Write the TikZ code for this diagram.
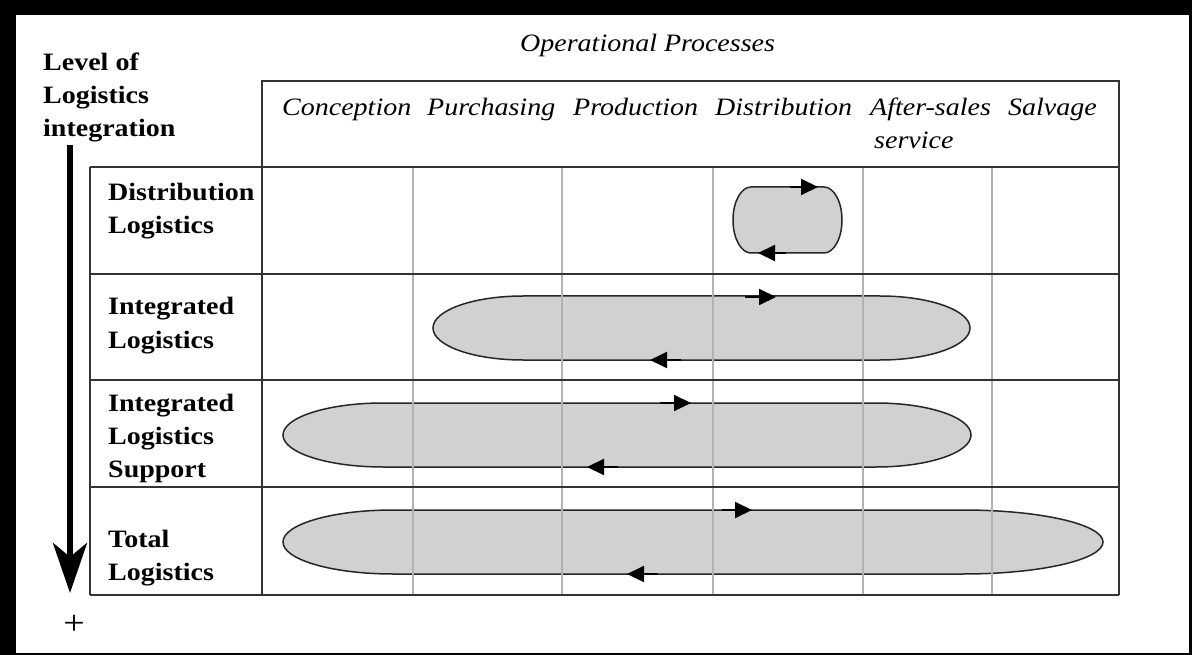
\documentclass[tikz,border=0pt]{standalone}
\usepackage{fontspec}
\setmainfont{Liberation Serif}[FakeStretch=1.12]
\usetikzlibrary{arrows.meta}

% closed loop with elliptical ends: left x, right x, centre y, half height, left cap, right cap
\newcommand\loopband[6]{%
  \path[loopband] (#1+#5,#3-#4) -- (#2-#6,#3-#4)
    arc[start angle=-90,end angle=90,x radius=#6,y radius=#4]
    -- (#1+#5,#3+#4)
    arc[start angle=90,end angle=270,x radius=#5,y radius=#4] -- cycle;}

\begin{document}
\begin{tikzpicture}[x=1pt,y=-1pt,
  darkrule/.style={draw=black!80, line width=1.6pt},
  colrule/.style={draw=black!30, line width=1.3pt},
  loopband/.style={fill=black!18, draw=black!85, line width=1.5pt},
  flow/.style={line width=2pt, -{Triangle[length=17pt,width=16pt]}},
  rowlabel/.style={anchor=base west, align=left, inner sep=0pt,
    font=\bfseries\fontsize{25}{33}\selectfont},
  colhead/.style={anchor=base west, inner sep=0pt,
    font=\itshape\fontsize{25}{33}\selectfont},
  axis/.style={line width=6pt, -{Stealth[length=50pt,width=34pt,inset=14pt]}},
]
% frame
\fill[black] (0,0) rectangle (1192,655);
\fill[white] (16,15) rectangle (1189,653);
\useasboundingbox (0,0) rectangle (1192,655);

% scope bands with their flow directions
\loopband{733}{842}{220}{33}{18}{18}
\loopband{433}{970}{328}{32}{90}{90}
\loopband{283}{971}{435}{32}{100}{95}
\loopband{283}{1103}{542}{32}{110}{140}

% column rules
\foreach \cx in {413,562,713,863,992}
  \draw[colrule] (\cx,167) -- (\cx,595);

% table frame and row rules
\draw[darkrule] (262,167) -- (262,81) -- (1119,81) -- (1119,595);
\draw[darkrule] (262,167) -- (262,595);
\draw[darkrule] (90,167) -- (90,595);
\foreach \ry in {167,274,380,487,595}
  \draw[darkrule] (90,\ry) -- (1119,\ry);

% flow arrows
\coordinate (d1) at (790,187); \coordinate (d2) at (818,187);
\coordinate (d3) at (786,253); \coordinate (d4) at (758,253);
\coordinate (i1) at (745,297); \coordinate (i2) at (776,297);
\coordinate (i3) at (681,360); \coordinate (i4) at (650,360);
\coordinate (s1) at (660,403); \coordinate (s2) at (691,403);
\coordinate (s3) at (618,467); \coordinate (s4) at (587,467);
\coordinate (t1) at (722,510); \coordinate (t2) at (752,510);
\coordinate (t3) at (658,574); \coordinate (t4) at (627,574);
\draw[flow] (d1) -- (d2); \draw[flow] (d3) -- (d4);
\draw[flow] (i1) -- (i2); \draw[flow] (i3) -- (i4);
\draw[flow] (s1) -- (s2); \draw[flow] (s3) -- (s4);
\draw[flow] (t1) -- (t2); \draw[flow] (t3) -- (t4);

% headings
\node[colhead] (ops) at (520,52) {Operational Processes};
\node[colhead] (c1) at (282,116) {Conception};
\node[colhead] (c2) at (427,116) {Purchasing};
\node[colhead] (c3) at (573,116) {Production};
\node[colhead] (c4) at (715,116) {Distribution};
\node[colhead] (c5) at (870,116) {After-sales};
\node[colhead] (c5b) at (874,149) {service};
\node[colhead] (c6) at (1008,116) {Salvage};

% row labels (placed by the baseline of their last line)
\node[rowlabel] (lvl) at (43,137) {Level of\\Logistics\\integration};
\node[rowlabel] (r1) at (108,234) {Distribution\\Logistics};
\node[rowlabel] (r2) at (108,348) {Integrated\\Logistics};
\node[rowlabel] (r3) at (108,477) {Integrated\\Logistics\\Support};
\node[rowlabel] (r4) at (108,580) {Total\\Logistics};

% integration axis
\coordinate (axtop) at (70,145);
\coordinate (axend) at (70,593);
\draw[axis] (axtop) -- (axend);
\node[inner sep=0pt, font=\fontsize{34}{34}\selectfont] (plus) at (74,625) {+};
\end{tikzpicture}
\end{document}
